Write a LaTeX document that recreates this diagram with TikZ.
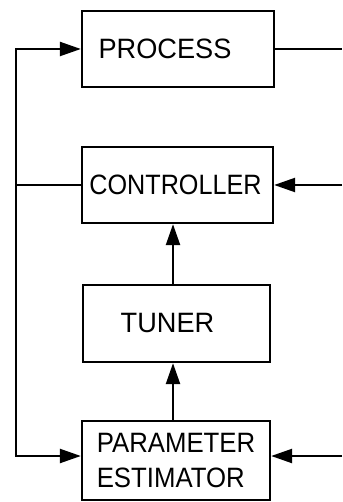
\documentclass[tikz,border=0pt]{standalone}
\usepackage{fontspec}
\setmainfont{Liberation Sans}
\usetikzlibrary{arrows.meta}
\begin{document}
\begin{tikzpicture}[x=1pt,y=-1pt,
  blk/.style={draw, line width=2.3pt, inner sep=0pt, font=\fontsize{28}{35}\selectfont},
  conn/.style={line width=2.3pt},
  arr/.style={conn, -{Triangle[length=21pt,width=14pt]}}]
\useasboundingbox (0,0) rectangle (342,502);
\node[blk, minimum width=192pt, minimum height=76pt] (proc) at (178,49) {\scalebox{0.97}[1]{PROCESS}\hspace*{26pt}};
\node[blk, minimum width=191pt, minimum height=76pt] (ctrl) at (177.5,185) {\scalebox{0.9}[1]{CONTROLLER}\hspace*{4pt}};
\node[blk, minimum width=187pt, minimum height=77pt] (tune) at (176.5,323.5) {\scalebox{0.97}[1]{TUNER}\hspace*{18pt}};
\node[blk, minimum width=188pt, minimum height=79pt, align=left] (est) at (176,460.5) {\scalebox{0.92}[1]{PARAMETER}\\\scalebox{0.92}[1]{ESTIMATOR}};
\coordinate (tl) at (16,49);
\coordinate (bl) at (16,456);
\coordinate (cl) at (16,185);
\coordinate (pr) at (342,49);
\coordinate (cr) at (342,185);
\coordinate (er) at (342,456);
\draw[arr] (bl) -- (tl) -- (proc.west);
\draw[arr] (tl) -- (bl) -- (est.west |- bl);
\draw[conn] (ctrl.west) -- (cl);
\draw[conn] (proc.east) -- (pr);
\draw[arr] (cr) -- (ctrl.east);
\draw[arr] (er) -- (est.east |- er);
\draw[arr] (tune.north -| 173,0) -- (ctrl.south -| 173,0);
\draw[arr] (est.north -| 173,0) -- (tune.south -| 173,0);
\end{tikzpicture}
\end{document}
